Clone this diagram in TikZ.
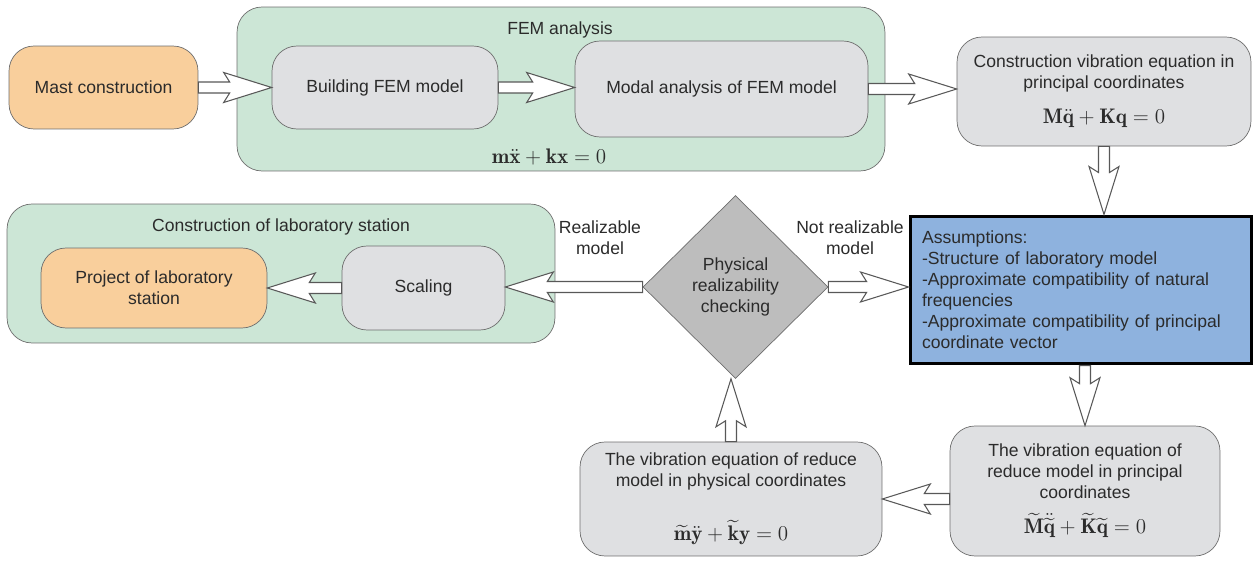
\documentclass[tikz,border=0pt]{standalone}
\usepackage{amsmath}
\usepackage{fontspec}
\newfontfamily\labelfont{Liberation Sans}
\usepackage{tikz}
\usetikzlibrary{shapes.geometric,calc}

\definecolor{orangebox}{HTML}{F9CF9C}
\definecolor{graybox}{HTML}{DFE0E2}
\definecolor{greenbox}{HTML}{CCE6D6}
\definecolor{bluebox}{HTML}{8EB2DE}
\definecolor{diamgray}{HTML}{BDBDBD}
\definecolor{edgegray}{HTML}{6E6E6E}
\definecolor{txt}{HTML}{2B2B2B}

\newcommand{\eqsize}{\large}
\newcommand{\fatarrow}[2]{%
	\draw[hollow] let \p1=(#1), \p2=(#2),
		\n1={atan2(\y2-\y1,\x2-\x1)}, \n2={veclen(\x2-\x1,\y2-\y1)} in
		($(\p1)+(\n1+90:0.11cm)$) --
		($(\p1)+(\n1:{\n2-0.84cm})+(\n1+90:0.11cm)$) --
		($(\p1)+(\n1:{\n2-0.96cm})+(\n1+90:0.3cm)$) --
		(\p2) --
		($(\p1)+(\n1:{\n2-0.96cm})+(\n1-90:0.3cm)$) --
		($(\p1)+(\n1:{\n2-0.84cm})+(\n1-90:0.11cm)$) --
		($(\p1)+(\n1-90:0.11cm)$) -- cycle;}

\begin{document}
\begin{tikzpicture}[
			x = 0.02cm, y = -0.02cm,
			every node/.style = {font=\labelfont, text=txt, align=center},
			block/.style = {draw=edgegray, rounded corners=0.5cm, inner sep=0pt},
			group/.style = {block, fill=greenbox},
			grey/.style = {block, fill=graybox},
			orange/.style = {block, fill=orangebox},
			hollow/.style = {draw=edgegray!80!black, fill=white, line width=0.6pt, line join=miter}
			]

			\useasboundingbox (0,0) rectangle (1254,563);

			\node[group, minimum width=12.96cm, minimum height=3.28cm] (fem) at (561,89) {};
			\node (femtitle) at (560,30) {FEM analysis};
			\node[font=\eqsize] (femeq) at (549,157) {$\mathbf{m}\ddot{\mathbf{x}}+\mathbf{k}\mathbf{x}=0$};

			\node[group, minimum width=10.96cm, minimum height=2.78cm] (lab) at (281,273.5) {};
			\node (labtitle) at (281,227) {Construction of laboratory station};

			\node[orange, minimum width=3.78cm, minimum height=1.66cm] (mast) at (103.5,87.5) {Mast construction};
			\node[grey, minimum width=4.52cm, minimum height=1.66cm] (build) at (385,87.5) {Building FEM model};
			\node[grey, minimum width=5.86cm, minimum height=1.92cm] (modal) at (721.5,89) {Modal analysis of FEM model};
			\node[grey, minimum width=5.88cm, minimum height=2.18cm] (constr) at (1104,91.5)
				{Construction vibration equation in\\ principal coordinates\\[8pt]
				{\eqsize$\mathbf{M}\ddot{\mathbf{q}}+\mathbf{K}\mathbf{q}=0$}};

			\node[draw=black, line width=1.7pt, fill=bluebox, align=left, text width=6.36cm,
				inner xsep=0.24cm, minimum height=2.96cm] (assum) at (1081,290)
				{Assumptions:\\-Structure of laboratory model\\-Approximate compatibility of natural\\frequencies\\-Approximate compatibility of principal\\coordinate vector};

			\node[diamond, draw=edgegray, fill=diamgray, inner sep=0pt, minimum width=3.7cm, minimum height=3.66cm] (check) at (735.5,287)
				{Physical\\realizability\\checking};
			\node (real) at (600,238) {Realizable\\model};
			\node (notreal) at (850,238) {Not realizable\\model};

			\node[grey, minimum width=3.26cm, minimum height=1.68cm] (scaling) at (423.5,288) {Scaling};
			\node[orange, minimum width=4.52cm, minimum height=1.6cm] (project) at (154,288) {Project of laboratory\\station};

			\node[grey, minimum width=5.4cm, minimum height=2.6cm] (redprin) at (1085,491)
				{The vibration equation of\\reduce model in principal\\coordinates\\[8pt]
				{\eqsize$\widetilde{\mathbf{M}}\ddot{\widetilde{\mathbf{q}}}+\widetilde{\mathbf{K}}\widetilde{\mathbf{q}}=0$}};
			\node[grey, minimum width=6.04cm, minimum height=2.28cm] (redphys) at (731,499)
				{The vibration equation of reduce\\model in physical coordinates\\[16pt]
				{\eqsize$\widetilde{\mathbf{m}}\ddot{\mathbf{y}}+\widetilde{\mathbf{k}}\mathbf{y}=0$}};

			\fatarrow{mast.east}{build.west}
			\fatarrow{build.east}{build.east -| modal.west}
			\fatarrow{modal.east}{modal.east -| constr.west}
			\fatarrow{constr.south}{constr.south |- assum.north}
			\fatarrow{check.east}{check.east -| assum.west}
			\fatarrow{check.west}{check.west -| scaling.east}
			\fatarrow{scaling.west}{scaling.west -| project.east}
			\fatarrow{assum.south -| redprin.north}{redprin.north}
			\fatarrow{redphys.east -| redprin.west}{redphys.east}
			\fatarrow{redphys.north}{redphys.north |- check.south}

		\end{tikzpicture}
\end{document}
